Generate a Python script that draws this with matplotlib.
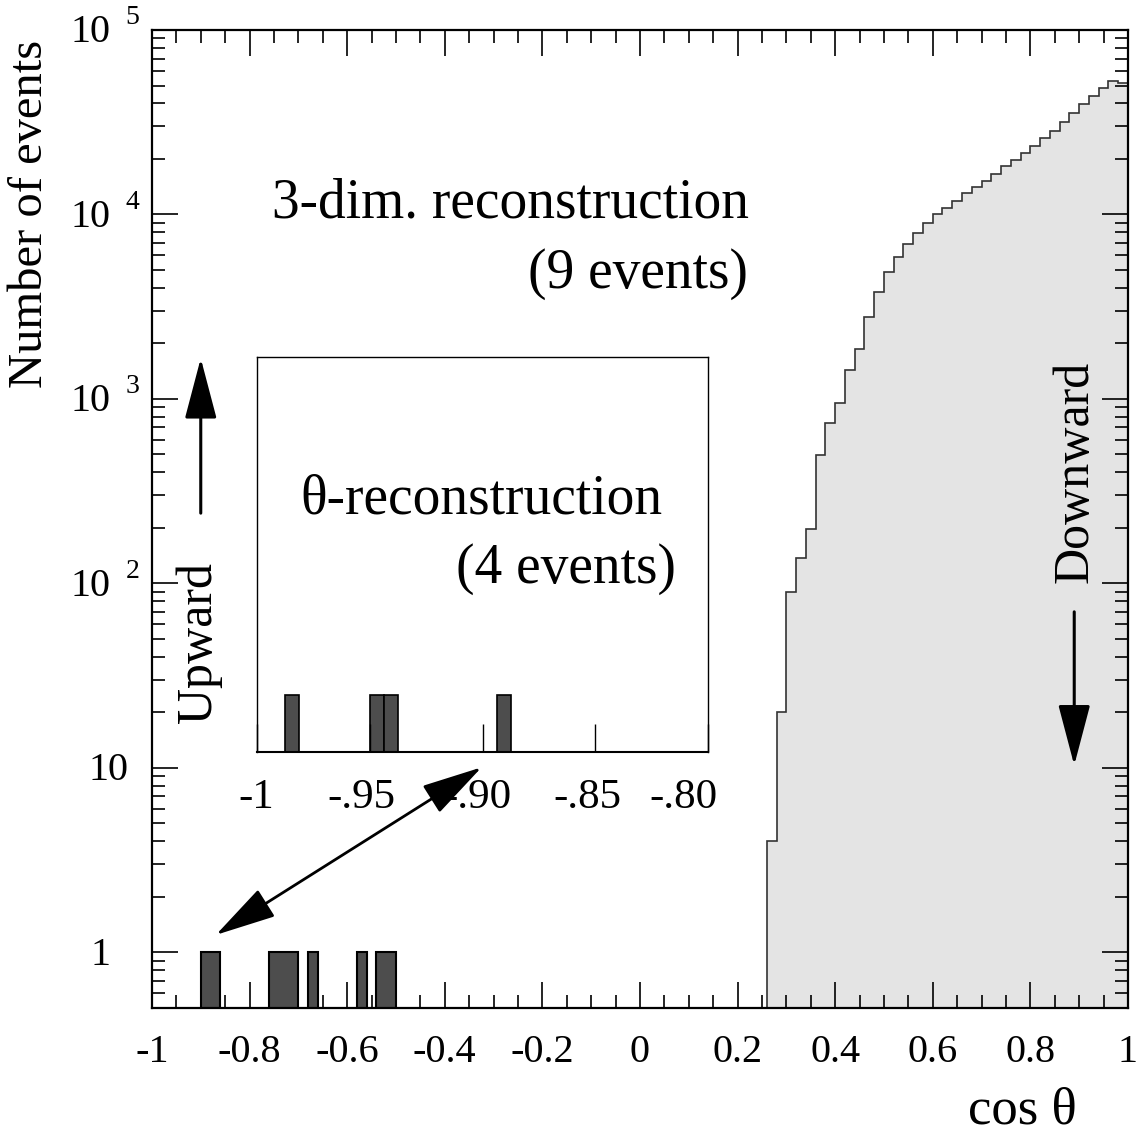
import numpy as np
import matplotlib.pyplot as plt
from matplotlib.ticker import MultipleLocator, LogLocator, NullFormatter, FixedLocator
from matplotlib.patches import FancyArrowPatch

plt.rcParams['font.family'] = ['Liberation Serif', 'DejaVu Serif']
plt.rcParams['axes.unicode_minus'] = False

# main histogram, bins of 0.02 in cos(theta)
BIN = 0.02
up_left = [-0.90, -0.88, -0.76, -0.74, -0.72, -0.68, -0.58, -0.54, -0.52]
up_counts = [1, 1, 1, 1, 1, 1, 1, 1, 1]

down_start = 0.26
down_counts = [4, 20, 90, 137, 196, 494, 743, 949, 1427, 1862, 2775,
               3776, 4864, 5866, 6871, 7910, 8960, 10070, 10860, 11890,
               13140, 14040, 15270, 16600, 18190, 19770, 21460, 23350,
               25880, 28490, 31600, 35510, 39740, 44070, 48530, 52700, 51400]

# inset: theta-reconstruction, finer bins
IN_BIN = 0.00625
inset_left = [-0.9875, -0.95, -0.94375, -0.89375]
inset_counts = [1, 1, 1, 1]

xticks = [-1, -0.8, -0.6, -0.4, -0.2, 0, 0.2, 0.4, 0.6, 0.8, 1]
xlabels = ['-1', '-0.8', '-0.6', '-0.4', '-0.2', '0', '0.2', '0.4', '0.6', '0.8', '1']
in_ticks = [-1, -0.95, -0.90, -0.85, -0.80]
in_labels = ['-1', '-.95', '-.90', '-.85', '-.80']

DARK = '#4d4d4d'
LIGHT = '#e4e4e4'

fig = plt.figure(figsize=(11.4, 11.4), dpi=100)
ax = fig.add_axes([0.1333, 0.1161, 0.8561, 0.8576])
ax.set_yscale('log')

# upward events: fill the -1..0 half (zeros drop out of the log view)
up_edges = np.linspace(-1, 0, 51)
up_hist = np.zeros(50)
for e, c in zip(up_left, up_counts):
    up_hist[int(round((e + 1) / BIN))] += c
ax.stairs(up_hist, up_edges, baseline=0.3, fill=True, facecolor=DARK,
          edgecolor='black', lw=1.5, zorder=2)

down_edges = down_start + BIN * np.arange(len(down_counts) + 1)
ax.stairs(down_counts, down_edges, baseline=0.3, fill=True, color=LIGHT, lw=0, zorder=1)
ax.stairs(down_counts, down_edges, baseline=0.3, color='#333333', lw=1.2, zorder=2)

ax.set_xlim(-1, 1)
ax.set_ylim(0.5, 1e5)
ax.xaxis.set_major_locator(FixedLocator(xticks))
ax.xaxis.set_minor_locator(MultipleLocator(0.05))
ax.set_xticklabels(xlabels, fontsize=29)
ax.yaxis.set_major_locator(LogLocator(base=10))
ax.yaxis.set_minor_locator(LogLocator(base=10, subs=np.arange(2, 10)))
ax.yaxis.set_major_formatter(NullFormatter())
ax.yaxis.set_minor_formatter(NullFormatter())
ax.tick_params(which='both', direction='in', top=True, right=True, width=1.2)
ax.tick_params(which='major', length=19)
ax.tick_params(which='minor', length=9.5)
ax.tick_params(axis='x', pad=19)
for s in ax.spines.values():
    s.set_linewidth(1.6)

# y tick labels in the "10 ^n" style
ytr = ax.get_yaxis_transform()
for k in range(6):
    v = 10.0 ** k
    if k == 0:
        ax.annotate('1', xy=(0, v), xycoords=ytr, xytext=(-30, -9), textcoords='offset points',
                    ha='right', va='baseline', fontsize=29)
    elif k == 1:
        ax.annotate('10', xy=(0, v), xycoords=ytr, xytext=(-17, -9), textcoords='offset points',
                    ha='right', va='baseline', fontsize=29)
    else:
        ax.annotate('10', xy=(0, v), xycoords=ytr, xytext=(-30, -9), textcoords='offset points',
                    ha='right', va='baseline', fontsize=29)
        ax.annotate(str(k), xy=(0, v), xycoords=ytr, xytext=(-19, 4), textcoords='offset points',
                    ha='left', va='baseline', fontsize=20)

ax.text(0.123, 0.808, '3-dim. reconstruction', transform=ax.transAxes, fontsize=40,
        ha='left', va='baseline')
ax.text(0.611, 0.736, '(9 events)', transform=ax.transAxes, fontsize=40,
        ha='right', va='baseline')
ax.text(-0.905, 48, 'Upward', rotation=90, fontsize=36, ha='center', va='center')
ax.text(0.893, 400, 'Downward', rotation=90, fontsize=36, ha='center', va='center')

head = '-|>,head_length=38,head_width=10'
ax.annotate('', xy=(-0.900, 1660), xytext=(-0.900, 240),
            arrowprops=dict(arrowstyle=head, lw=2.2, color='black', shrinkA=0, shrinkB=0,
                            mutation_scale=1))
ax.annotate('', xy=(0.890, 10.3), xytext=(0.890, 70),
            arrowprops=dict(arrowstyle=head, lw=2.2, color='black', shrinkA=0, shrinkB=0,
                            mutation_scale=1))

fig.text(30 / 1140, 1 - 40 / 1140, 'Number of events', rotation=90, fontsize=35,
         ha='center', va='top')
fig.text(1022 / 1140, 1 - 1110 / 1140, 'cos θ', fontsize=38, ha='center', va='center')

# inset
axi = fig.add_axes([0.2252, 0.3406, 0.3961, 0.3465])
axi.bar(inset_left, inset_counts, width=IN_BIN, align='edge', color=DARK,
        edgecolor='black', lw=1.2)
axi.set_xlim(-1, -0.8)
axi.set_ylim(0, 7)
axi.set_yticks([])
axi.set_xticks(in_ticks)
axi.set_xticklabels([])
axi.tick_params(axis='x', direction='in', length=20, width=1)
# inset tick labels, nudged left like the original
xtr = axi.get_xaxis_transform()
shifts = [0, -6, -4, -6, -18]
for t, lab, dx in zip(in_ticks, in_labels, shifts):
    axi.annotate(lab, xy=(t, 0), xycoords=xtr, xytext=(dx, -19), textcoords='offset points',
                 ha='center', va='top', fontsize=31)
for s in axi.spines.values():
    s.set_linewidth(1.0)
axi.spines['bottom'].set_linewidth(1.5)
axi.text(0.096, 0.604, 'θ-reconstruction', transform=axi.transAxes, fontsize=40,
         ha='left', va='baseline')
axi.text(0.928, 0.427, '(4 events)', transform=axi.transAxes, fontsize=40,
         ha='right', va='baseline')

# double arrow linking the inset to the upward events, drawn above everything
link = FancyArrowPatch((-0.869, 1.24), (-0.3244, 10.05), transform=ax.transData,
                       arrowstyle='<|-|>,head_length=38,head_width=10', mutation_scale=1,
                       lw=2, color='black', shrinkA=0, shrinkB=0)
fig.add_artist(link)

fig.savefig('out.png', dpi=100)
